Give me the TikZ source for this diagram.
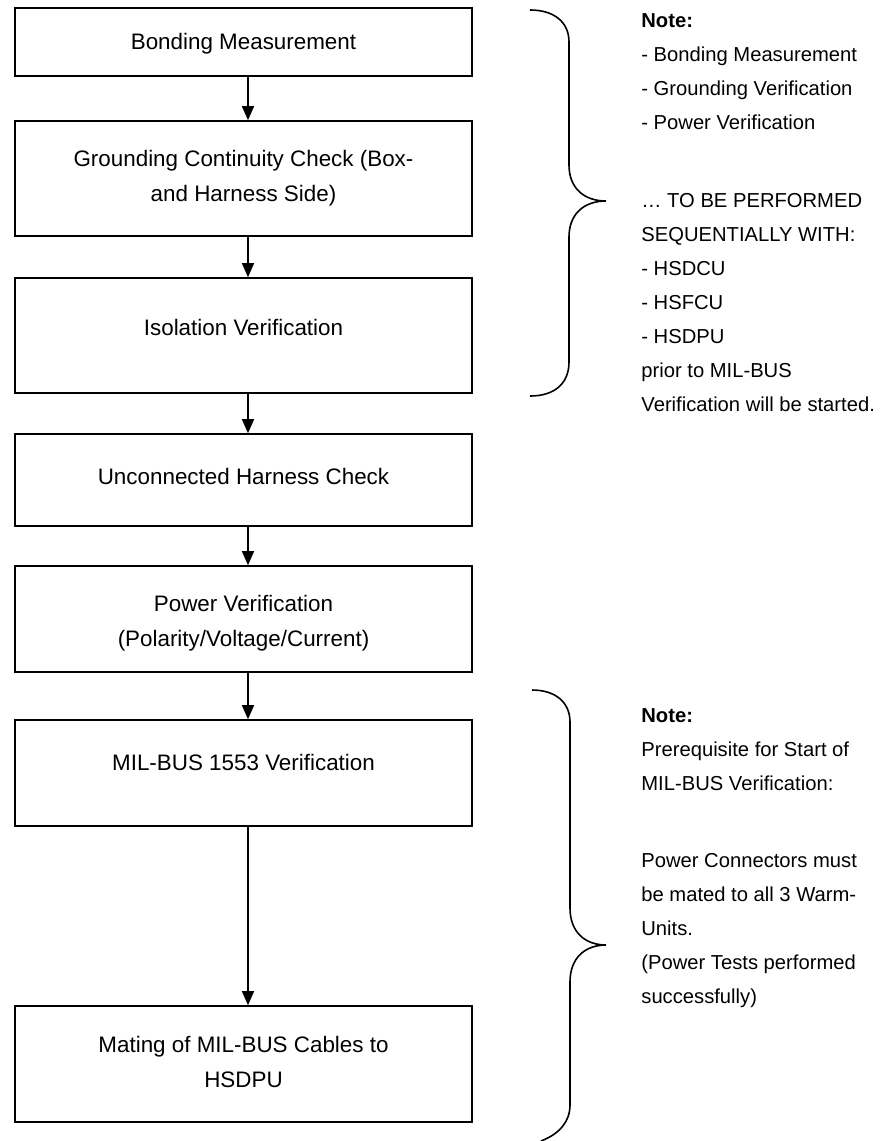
\documentclass[tikz,border=0pt]{standalone}
\usepackage{fontspec}
\setmainfont{Liberation Sans}
\usetikzlibrary{arrows.meta}
\begin{document}
\begin{tikzpicture}[x=0.5pt,y=-0.5pt,
  stepbox/.style={draw=black, line width=0.8pt, minimum width=228.5pt, inner sep=0pt},
  boxtext/.style={font=\fontsize{11.2pt}{17.5pt}\selectfont, align=center, inner sep=0pt},
  notetext/.style={font=\fontsize{10.1pt}{17pt}\selectfont, align=left, anchor=north west, inner sep=0pt},
  arr/.style={line width=0.75pt, -{Triangle[length=7pt,width=6pt]}},
  bracepath/.style={line width=0.8pt}]
\useasboundingbox (0,0) rectangle (882,1141);
% boxes
\node[stepbox, minimum height=34pt]   (b1) at (243.5,42) {};
\node[stepbox, minimum height=57.5pt] (b2) at (243.5,178.5) {};
\node[stepbox, minimum height=57.5pt] (b3) at (243.5,335.5) {};
\node[stepbox, minimum height=46pt]   (b4) at (243.5,480) {};
\node[stepbox, minimum height=53pt]   (b5) at (243.5,619) {};
\node[stepbox, minimum height=53pt]   (b6) at (243.5,773) {};
\node[stepbox, minimum height=58pt]   (b7) at (243.5,1064) {};
% box texts
\node[boxtext] (t1) at (243.5,44) {Bonding Measurement};
\node[boxtext] (t2) at (243.5,178) {Grounding Continuity Check (Box-\\and Harness Side)};
\node[boxtext] (t3) at (243.5,327) {Isolation Verification};
\node[boxtext] (t4) at (243.5,476) {Unconnected Harness Check};
\node[boxtext] (t5) at (243.5,623) {Power Verification\\(Polarity/Voltage/Current)};
\node[boxtext] (t6) at (243.5,762) {MIL-BUS 1553 Verification};
\node[boxtext] (t7) at (243.5,1062) {Mating of MIL-BUS Cables to\\HSDPU};
% arrows
\coordinate (ax) at (248,0);
\draw[arr] (b1.south -| ax) -- (b2.north -| ax);
\draw[arr] (b2.south -| ax) -- (b3.north -| ax);
\draw[arr] (b3.south -| ax) -- (b4.north -| ax);
\draw[arr] (b4.south -| ax) -- (b5.north -| ax);
\draw[arr] (b5.south -| ax) -- (b6.north -| ax);
\draw[arr] (b6.south -| ax) -- (b7.north -| ax);
% braces
\draw[bracepath] (530,10) .. controls (554,10) and (569,22) .. (569,42) -- (569,165)
  .. controls (569,188) and (584,201) .. (606,201)
  .. controls (584,201) and (569,214) .. (569,237) -- (569,362)
  .. controls (569,384) and (554,396) .. (530,396);
\draw[bracepath] (532,690) .. controls (555,690) and (570,702) .. (570,722) -- (570,908)
  .. controls (570,932) and (585,945) .. (606,945)
  .. controls (585,945) and (570,958) .. (570,982) -- (570,1105)
  .. controls (570,1122) and (559,1134) .. (541,1141);
% notes
\node[notetext] (n1) at (641,13) {\textbf{Note:}\\
- Bonding Measurement\\
- Grounding Verification\\
- Power Verification\\[22pt]
\dots\ TO BE PERFORMED\\
SEQUENTIALLY WITH:\\
- HSDCU\\
- HSFCU\\
- HSDPU\\
prior to MIL-BUS\\
Verification will be started.};
\node[notetext] (n2) at (641,708) {\textbf{Note:}\\
Prerequisite for Start of\\
MIL-BUS Verification:\\[21.5pt]
Power Connectors must\\
be mated to all 3 Warm-\\
Units.\\
(Power Tests performed\\
successfully)};
\end{tikzpicture}
\end{document}
